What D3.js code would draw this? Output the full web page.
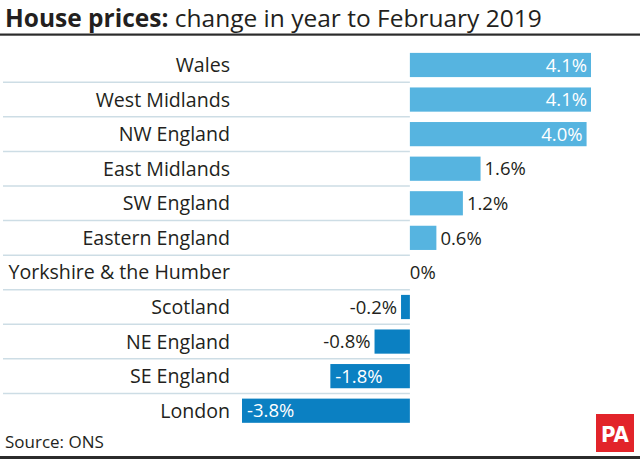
<!DOCTYPE html>
<html>
<head>
<meta charset="utf-8">
<script src="https://cdn.jsdelivr.net/npm/d3@7/dist/d3.min.js"></script>
<style>
  html, body { margin: 0; padding: 0; background: #fff; }
  svg { display: block; }
</style>
</head>
<body>
<svg id="chart" width="640" height="459"></svg>
<script>
const regions = ["Wales", "West Midlands", "NW England", "East Midlands", "SW England",
  "Eastern England", "Yorkshire & the Humber", "Scotland", "NE England", "SE England", "London"];
const changes = [4.1, 4.1, 4.0, 1.6, 1.2, 0.6, 0, -0.2, -0.8, -1.8, -3.8];
const valueLabels = ["4.1%", "4.1%", "4.0%", "1.6%", "1.2%", "0.6%", "0%", "-0.2%", "-0.8%", "-1.8%", "-3.8%"];

const data = regions.map((r, i) => ({ region: r, value: changes[i], label: valueLabels[i] }));

const svg = d3.select("#chart");
const W = 640, H = 459;
const FONT = "'Open Sans', 'Noto Sans', sans-serif";

const x = d3.scaleLinear().domain([-3.8, 4.1]).range([242, 591]);
const y = d3.scaleBand().domain(regions).range([47.7, 428]).paddingInner(0.3).paddingOuter(0.15);

// Title
const title = svg.append("text").attr("x", 5).attr("y", 26.5)
  .attr("font-family", FONT).attr("font-size", 24.5).attr("fill", "#231f20");
title.append("tspan").attr("font-weight", 700).text("House prices:");
title.append("tspan").attr("font-weight", 400).text(" change in year to February 2019");

// top rule
svg.append("rect").attr("x", 0).attr("y", 33.5).attr("width", W).attr("height", 2.2).attr("fill", "#2b2b2b");
// bottom rule
svg.append("rect").attr("x", 0).attr("y", 456).attr("width", W).attr("height", 3).attr("fill", "#2b2b2b");

// separators between rows
const step = y.step();
svg.append("g").selectAll("line").data(regions.slice(1)).join("line")
  .attr("x1", 3).attr("x2", x(0))
  .attr("y1", d => y(d) - (step - y.bandwidth()) / 2)
  .attr("y2", d => y(d) - (step - y.bandwidth()) / 2)
  .attr("stroke", "#cddde5").attr("stroke-width", 1.5);

// bars
svg.append("g").selectAll("rect").data(data).join("rect")
  .attr("x", d => x(Math.min(0, d.value)))
  .attr("width", d => Math.abs(x(d.value) - x(0)))
  .attr("y", d => y(d.region))
  .attr("height", y.bandwidth())
  .attr("fill", d => d.value >= 0 ? "#56b4e0" : "#0b80c2");

// region labels
svg.append("g").selectAll("text").data(data).join("text")
  .attr("x", 230)
  .attr("y", d => y(d.region) + y.bandwidth() / 2)
  .attr("dy", "0.36em")
  .attr("text-anchor", "end")
  .attr("font-family", FONT).attr("font-size", 19.6).attr("fill", "#231f20")
  .text(d => d.region);

// value labels
const inside = d => Math.abs(d.value) >= 1.8;
svg.append("g").selectAll("text").data(data).join("text")
  .attr("x", d => {
    if (d.value > 0) return inside(d) ? x(d.value) - 4 : x(d.value) + 4;
    if (d.value < 0) return inside(d) ? x(d.value) + 5 : x(d.value) - 4;
    return x(0);
  })
  .attr("y", d => y(d.region) + y.bandwidth() / 2)
  .attr("dy", "0.36em")
  .attr("text-anchor", d => {
    if (d.value > 0) return inside(d) ? "end" : "start";
    if (d.value < 0) return inside(d) ? "start" : "end";
    return "start";
  })
  .attr("font-family", FONT).attr("font-size", 18.5).attr("fill", d => inside(d) ? "#ffffff" : "#231f20")
  .text(d => d.label);

// source
svg.append("text").attr("x", 5).attr("y", 448)
  .attr("font-family", FONT).attr("font-size", 17).attr("fill", "#231f20")
  .text("Source: ONS");

// PA logo
svg.append("rect").attr("x", 596).attr("y", 414).attr("width", 38).attr("height", 38).attr("fill", "#e2242a");
svg.append("text").attr("x", 615).attr("y", 442)
  .attr("text-anchor", "middle")
  .attr("font-family", "'Liberation Sans Narrow', 'DejaVu Sans Condensed', sans-serif")
  .attr("font-weight", 700).attr("font-size", 22).attr("fill", "#fff")
  .text("PA");
</script>
</body>
</html>
